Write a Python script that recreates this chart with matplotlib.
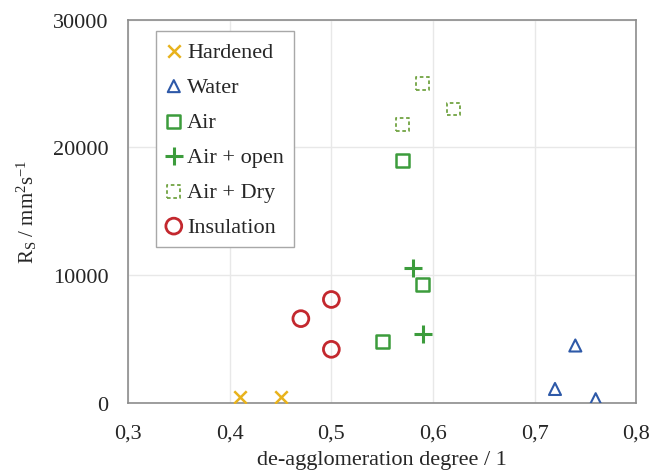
import matplotlib
matplotlib.use("Agg")
import matplotlib.pyplot as plt
from matplotlib.ticker import FuncFormatter

plt.rcParams["font.family"] = ["Liberation Serif", "DejaVu Serif"]
plt.rcParams["mathtext.fontset"] = "custom"
plt.rcParams["mathtext.rm"] = "Liberation Serif"
plt.rcParams["mathtext.it"] = "Liberation Serif:italic"

# data
hardened_x = [0.41, 0.45]
hardened_y = [500, 500]
water_x = [0.72, 0.74, 0.76]
water_y = [1100, 4500, 300]
air_x = [0.55, 0.57, 0.59]
air_y = [4800, 19000, 9300]
open_x = [0.58, 0.59]
open_y = [10600, 5400]
dry_x = [0.57, 0.59, 0.62]
dry_y = [21800, 25000, 23000]
insul_x = [0.47, 0.50, 0.50]
insul_y = [6600, 8100, 4200]

x_ticks = [0.3, 0.4, 0.5, 0.6, 0.7, 0.8]
y_ticks = [0, 10000, 20000, 30000]

fig = plt.figure(figsize=(6.67, 4.77), dpi=100)
ax = fig.add_axes([0.192, 0.153, 0.762, 0.804])

ax.scatter(hardened_x, hardened_y, marker="x", s=80, c="#E8B21C", linewidths=1.8,
           label="Hardened", zorder=3)
ax.scatter(water_x, water_y, marker="^", s=75, facecolors="none", edgecolors="#2E59A8",
           linewidths=1.5, label="Water", zorder=3)
ax.scatter(air_x, air_y, marker="s", s=85, facecolors="none", edgecolors="#3C9C3C",
           linewidths=1.8, label="Air", zorder=3)
ax.scatter(open_x, open_y, marker="+", s=160, c="#3C9C3C", linewidths=2.2,
           label="Air + open", zorder=3)
ax.scatter(dry_x, dry_y, marker="s", s=85, facecolors="none", edgecolors="#72A443",
           linewidths=1.3, linestyles=(0, (2.0, 1.5)), label="Air + Dry", zorder=3)
ax.scatter(insul_x, insul_y, marker="o", s=130, facecolors="none", edgecolors="#C3282E",
           linewidths=2.0, label="Insulation", zorder=3)

ax.set_xlim(0.3, 0.8)
ax.set_ylim(0, 30000)
ax.set_xticks(x_ticks)
ax.set_yticks(y_ticks)
ax.xaxis.set_major_formatter(FuncFormatter(lambda v, p: ("%.1f" % v).replace(".", ",")))
ax.tick_params(axis="both", length=0, labelsize=16, colors="#262626")
ax.tick_params(axis="y", pad=14)
ax.tick_params(axis="x", pad=15)
ax.grid(True, color="#E8E8E8", lw=1.0)
ax.set_axisbelow(True)
for s in ax.spines.values():
    s.set_color("#8C8C8C")
    s.set_linewidth(1.2)

ax.set_xlabel("de-agglomeration degree / 1", fontsize=16, labelpad=5, color="#262626")
ax.set_ylabel(r"R$_\mathrm{S}$ / mm$^2$s$^{-1}$", fontsize=15, labelpad=10, color="#262626")

leg = ax.legend(loc="upper left", bbox_to_anchor=(0.055, 0.969), borderaxespad=0,
                fontsize=16, labelspacing=0.65, handlelength=0.7, handletextpad=0.25,
                borderpad=0.45, fancybox=False, framealpha=1, edgecolor="#A8A8A8",
                scatterpoints=1)
leg.get_frame().set_linewidth(1.0)
for t in leg.get_texts():
    t.set_color("#262626")

fig.savefig("out.png", dpi=100)
